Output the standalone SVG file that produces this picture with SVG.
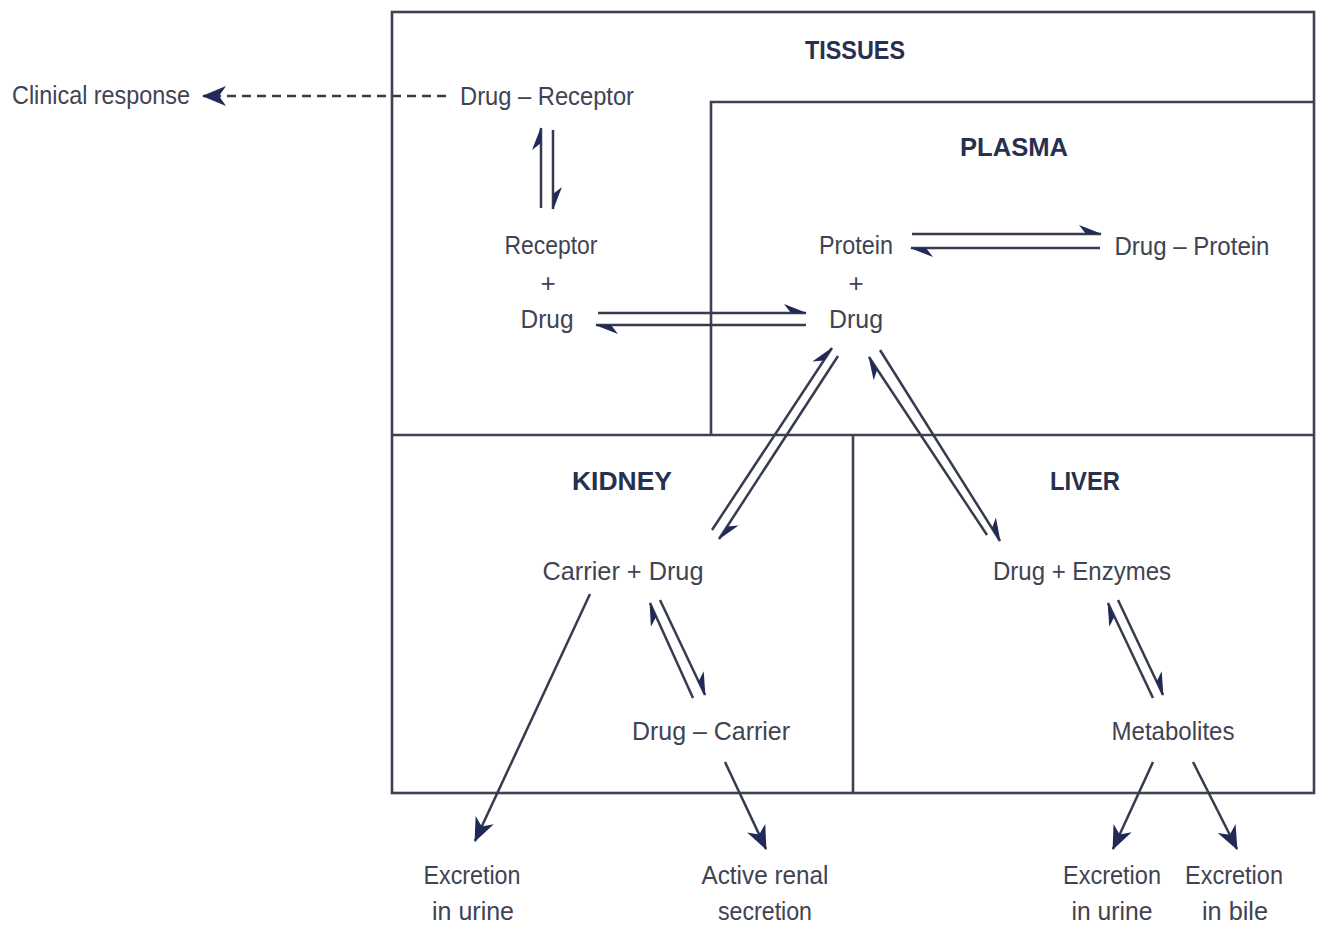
<svg xmlns="http://www.w3.org/2000/svg" width="1318" height="927" viewBox="0 0 1318 927">
<style>
.box{fill:none;stroke:#3e4252;stroke-width:2.6}
.ln{fill:none;stroke:#363b4e;stroke-width:2.5}
.h{marker-end:url(#harpoon)}
.f{marker-end:url(#arrow)}
.dash{stroke-dasharray:9 6}
text{font-family:"Liberation Sans","DejaVu Sans",sans-serif;font-size:26px;fill:#3f4352;text-anchor:middle}
.hd{font-weight:bold;font-size:25px;fill:#283050}
</style>
<defs>
<marker id="harpoon" markerUnits="userSpaceOnUse" viewBox="-26 -13 28 26" refX="0" refY="0" markerWidth="28" markerHeight="26" orient="auto">
<path d="M1,0 L-22,-9 L-15,0 Z" fill="#1f2a58"/>
</marker>
<marker id="arrow" markerUnits="userSpaceOnUse" viewBox="-26 -13 28 26" refX="0" refY="0" markerWidth="28" markerHeight="26" orient="auto">
<path d="M1,0 L-23,-10 L-16,0 L-23,10 Z" fill="#1f2a58"/>
</marker>
</defs>
<rect width="1318" height="927" fill="#ffffff"/>
<g id="tissues">
<rect class="box" x="392" y="12" width="922" height="781"/>
<text class="hd" x="855" y="59" textLength="100" lengthAdjust="spacingAndGlyphs">TISSUES</text>
<text x="547" y="105" textLength="174" lengthAdjust="spacingAndGlyphs">Drug – Receptor</text>
<text x="551" y="254" textLength="93" lengthAdjust="spacingAndGlyphs">Receptor</text>
<text x="548" y="292">+</text>
<text x="547" y="328" textLength="53" lengthAdjust="spacingAndGlyphs">Drug</text>
</g>
<g id="plasma">
<polyline class="box" points="711,435 711,102 1314,102"/>
<text class="hd" x="1014" y="156" textLength="108" lengthAdjust="spacingAndGlyphs">PLASMA</text>
<text x="856" y="254" textLength="74" lengthAdjust="spacingAndGlyphs">Protein</text>
<text x="856" y="292">+</text>
<text x="856" y="328" textLength="54" lengthAdjust="spacingAndGlyphs">Drug</text>
<text x="1192" y="255" textLength="155" lengthAdjust="spacingAndGlyphs">Drug – Protein</text>
</g>
<g id="kidney">
<line class="box" x1="392" y1="435" x2="1314" y2="435"/>
<text class="hd" x="622" y="490" textLength="100" lengthAdjust="spacingAndGlyphs">KIDNEY</text>
<text x="623" y="580" textLength="161" lengthAdjust="spacingAndGlyphs">Carrier + Drug</text>
<text x="711" y="740" textLength="158" lengthAdjust="spacingAndGlyphs">Drug – Carrier</text>
</g>
<g id="liver">
<line class="box" x1="853" y1="435" x2="853" y2="793"/>
<text class="hd" x="1085" y="490" textLength="70" lengthAdjust="spacingAndGlyphs">LIVER</text>
<text x="1082" y="580" textLength="178" lengthAdjust="spacingAndGlyphs">Drug + Enzymes</text>
<text x="1173" y="740" textLength="123" lengthAdjust="spacingAndGlyphs">Metabolites</text>
</g>
<g id="clinical-response">
<text x="101" y="104" textLength="178" lengthAdjust="spacingAndGlyphs">Clinical response</text>
</g>
<g id="excretion-urine-kidney">
<text x="472" y="884" textLength="97" lengthAdjust="spacingAndGlyphs">Excretion</text>
<text x="473" y="920" textLength="82" lengthAdjust="spacingAndGlyphs">in urine</text>
</g>
<g id="active-renal-secretion">
<text x="765" y="884" textLength="127" lengthAdjust="spacingAndGlyphs">Active renal</text>
<text x="765" y="920" textLength="94" lengthAdjust="spacingAndGlyphs">secretion</text>
</g>
<g id="excretion-urine-liver">
<text x="1112" y="884" textLength="98" lengthAdjust="spacingAndGlyphs">Excretion</text>
<text x="1112" y="920" textLength="81" lengthAdjust="spacingAndGlyphs">in urine</text>
</g>
<g id="excretion-bile">
<text x="1234" y="884" textLength="98" lengthAdjust="spacingAndGlyphs">Excretion</text>
<text x="1235" y="920" textLength="66" lengthAdjust="spacingAndGlyphs">in bile</text>
</g>
<g id="connectors">
<line class="ln dash f" x1="446" y1="96" x2="203" y2="96"/>
<line class="ln h" x1="541" y1="208" x2="541" y2="128"/>
<line class="ln h" x1="553" y1="130" x2="553" y2="209"/>
<line class="ln h" x1="598" y1="313" x2="806" y2="313"/>
<line class="ln h" x1="806" y1="325" x2="596" y2="325"/>
<line class="ln h" x1="912" y1="234" x2="1101" y2="234"/>
<line class="ln h" x1="1100" y1="248" x2="911" y2="248"/>
<line class="ln h" x1="712" y1="530" x2="832" y2="348"/>
<line class="ln h" x1="838" y1="356" x2="719" y2="539"/>
<line class="ln h" x1="987" y1="535" x2="869" y2="357"/>
<line class="ln h" x1="880" y1="350" x2="1000" y2="541"/>
<line class="ln h" x1="693" y1="698" x2="650" y2="603"/>
<line class="ln h" x1="660" y1="600" x2="705" y2="695"/>
<line class="ln h" x1="1153" y1="698" x2="1108" y2="603"/>
<line class="ln h" x1="1118" y1="600" x2="1163" y2="695"/>
<line class="ln f" x1="590" y1="594" x2="475" y2="841"/>
<line class="ln f" x1="725" y1="762" x2="766" y2="849"/>
<line class="ln f" x1="1153" y1="762" x2="1113" y2="849"/>
<line class="ln f" x1="1193" y1="762" x2="1237" y2="849"/>
</g>
</svg>
